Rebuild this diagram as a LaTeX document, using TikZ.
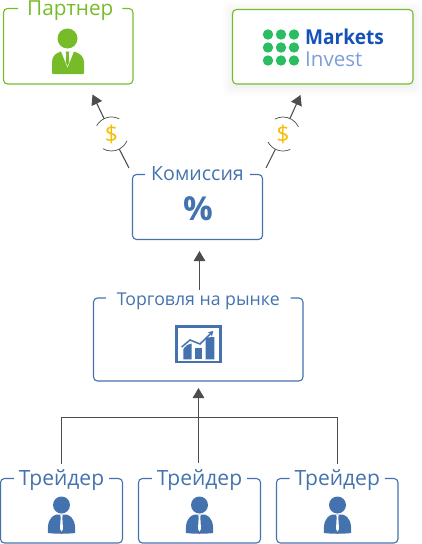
\documentclass[tikz,border=0pt]{standalone}
\usepackage{fontspec}
\setmainfont{Open Sans}
\usetikzlibrary{arrows.meta}
\definecolor{pgreen}{HTML}{76BC28}
\definecolor{pblue}{HTML}{4472AE}
\definecolor{conn}{HTML}{4D4D4D}
\definecolor{dollar}{HTML}{F5BC00}
\definecolor{logogreen}{HTML}{2BBD62}
\definecolor{logoblue}{HTML}{1452B8}
\definecolor{logolight}{HTML}{7C9FDB}
\tikzset{
  boxarea/.style={minimum width=#1,inner sep=0pt,outer sep=0pt},
  outline/.style={draw=#1,line width=1.1pt,rounded corners=4pt},
  titletext/.style={anchor=base,inner ysep=0pt,outer sep=0pt,text height=22pt,text depth=0pt},
  wire/.style={draw=conn,line width=1.1pt},
  arrowwire/.style={wire,-{Triangle[length=10pt,width=11.5pt]}},
  coin/.style={circle,minimum size=34pt,inner sep=0pt,outer sep=0pt,text=dollar,font=\fontsize{23}{25}\selectfont},
  arcline/.style={draw=conn,line width=.7pt},
}
\def\titleoff{0}
\def\titlerise{7}
% name, x1, y1, x2, y2, colour, title, title size, gap
\newcommand{\titledbox}[9]{%
  \node[boxarea=#4pt-#2pt,minimum height=#5pt-#3pt,anchor=north west] (#1) at (#2,#3) {};
  \node[titletext,inner xsep=#9pt,text=#6,font=\fontsize{#8}{#8}\selectfont] (#1t) at ({(#2+#4)/2+\titleoff},{#3+\titlerise}) {#7};
  \draw[outline=#6] (#1t.east |- #1.north) -- (#1.north east) -- (#1.south east) -- (#1.south west) -- (#1.north west) -- (#1t.west |- #1.north);
}
\newcommand{\blueperson}[1]{%
  \begin{scope}[shift={(#1,0)}]
    \fill[pblue] (0,505) circle (8.5);
    \fill[pblue] (-13.5,533) .. controls (-14,524) and (-13,517) .. (-5,514.5) -- (5,514.5) .. controls (13,517) and (14,524) .. (13.5,533) .. controls (6,534) and (-6,534) .. (-13.5,533) -- cycle;
    \fill[white] (-1.4,514.5) -- (1.4,514.5) -- (.8,517) -- (1.5,529) -- (0,531.5) -- (-1.5,529) -- (-.8,517) -- cycle;
  \end{scope}
}
\begin{document}
\begin{tikzpicture}[x=1pt,y=-1pt]
\useasboundingbox (0,0) rectangle (421,544);
% Markets box shadow
\foreach \g/\o in {10/.006,8/.007,6/.009,4/.011,2/.012}{
  \fill[black,opacity=\o,rounded corners=6pt] (232.5-\g,9.5-\g+2) rectangle (413+\g,84+\g+2);
}
% boxes
\def\titleoff{2}
\titledbox{partner}{3.5}{8.5}{133}{84}{pgreen}{Партнер}{20.7}{9}
\def\titleoff{0}
\node[boxarea=180.5pt,minimum height=74.5pt,anchor=north west,fill=white,draw=pgreen,line width=1.1pt,rounded corners=4pt] (markets) at (232.5,9.5) {};
\def\titlerise{6}
\titledbox{kom}{132.5}{174.5}{262.5}{239.5}{pblue}{Комиссия}{19.6}{6}
\def\titlerise{7}
\titledbox{market}{93.5}{298}{303}{381}{pblue}{Торговля на рынке}{17.7}{11}
\titledbox{tra}{0.5}{478.5}{122.5}{543}{pblue}{Трейдер}{21}{5}
\titledbox{trb}{138.5}{478.5}{260.5}{543}{pblue}{Трейдер}{21}{5}
\titledbox{trc}{276.5}{478.5}{398}{543}{pblue}{Трейдер}{21}{5}
% green person
\fill[pgreen] (67.5,38.5) circle (10);
\fill[pgreen] (52,73) -- (52,62) .. controls (52,56) and (56,53) .. (61,51.5) -- (67.5,68) -- (74,51.5) .. controls (79,53) and (84,56) .. (84,62) -- (84,73) .. controls (84,74) and (83.5,74) .. (83,74) -- (53,74) .. controls (52.5,74) and (52,74) .. (52,73) -- cycle;
\fill[pgreen] (65.5,51.5) -- (69.5,51.5) -- (68.7,54) -- (69.3,62) -- (67.5,66) -- (65.7,62) -- (66.3,54) -- cycle;
% logo
\foreach \i in {0,1,2}{\foreach \j in {0,1,2}{
  \fill[logogreen] ({268+\i*13},{34.5+\j*13}) circle (5.2);
}}
\node[anchor=base west,inner sep=0pt,xscale=.93,font=\fontsize{20.5}{20.5}\selectfont\bfseries,text=logoblue] (mk) at (305,44.5) {Markets};
\node[anchor=base west,inner sep=0pt,font=\fontsize{20.5}{20.5}\selectfont,text=logolight] (inv) at (305,66) {Invest};
% percent
\node[inner sep=0pt,text=pblue,font=\fontsize{33}{33}\selectfont\bfseries] (pct) at (198,209) {\%};
% chart icon
\draw[pblue,line width=2.8pt] (176.4,326.4) rectangle (220.4,362);
\fill[pblue] (183.3,349) -- (187,345) -- (191.7,343.5) -- (191.7,359.3) -- (183.3,359.3) -- cycle;
\fill[pblue] (195,348.3) rectangle (202.3,359.3);
\fill[pblue] (205.7,337.5) -- (214.3,337) -- (214.3,359.3) -- (205.7,359.3) -- cycle;
\draw[pblue,line width=1.5pt,-{Stealth[length=5pt,width=6pt]}] (181.7,347) -- (190,340) -- (200,344) -- (213.3,331);
% trader persons
\blueperson{61.5}
\blueperson{199.5}
\blueperson{337.5}
% connectors
\coordinate (cl) at (129,168);
\coordinate (cr) at (266,168);
\coordinate (pl) at (92.5,94.5);
\coordinate (pr) at (300.5,95);
\node[coin] (dl) at (111.5,134) {\$};
\node[coin] (dr) at (283,134) {\$};
\draw[wire] (cl) -- (dl);
\draw[wire] (cr) -- (dr);
\draw[arrowwire] (dl) -- (pl);
\draw[arrowwire] (dr) -- (pr);
\draw[arcline] (dl.151) arc[start angle=-151,end angle=-63,radius=17];
\draw[arcline] (dl.240) arc[start angle=-240,end angle=-336,radius=17];
\draw[arcline] (dr.119) arc[start angle=-119,end angle=-25,radius=17];
\draw[arcline] (dr.208) arc[start angle=-208,end angle=-295,radius=17];
\coordinate (komtail) at (199.5,290);
\coordinate (komtip) at (199.5,251);
\draw[arrowwire] (komtail) -- (komtip);
\coordinate (bus) at (0,417.5);
\coordinate (mtip) at (198.5,388);
\coordinate (mtail) at (198.5,463);
\draw[wire] (trat.north) -- (trat.north |- bus) -- (trct.north |- bus) -- (trct.north);
\draw[arrowwire] (mtail) -- (mtip);
\end{tikzpicture}
\end{document}
